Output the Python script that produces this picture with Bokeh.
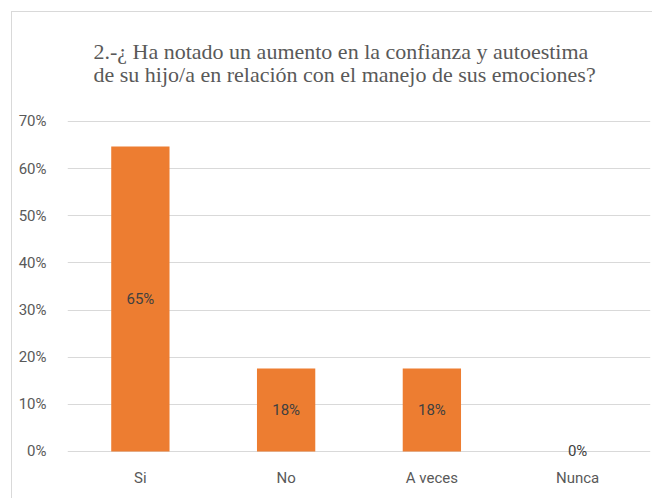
from bokeh.plotting import figure
from bokeh.models import (FactorRange, Range1d, NumeralTickFormatter, FixedTicker,
                          ColumnDataSource, Title)
from bokeh.core.properties import value
from bokeh.embed import file_html
from bokeh.resources import INLINE

categories = ["Si", "No", "A veces", "Nunca"]
percentages = [0.647, 0.176, 0.176, 0.0]
labels = ["65%", "18%", "18%", "0%"]
y_ticks = [0.0, 0.1, 0.2, 0.3, 0.4, 0.5, 0.6, 0.7]
title_lines = ["2.-¿ Ha notado un aumento en la confianza y autoestima",
               "de su hijo/a en relación con el manejo de sus emociones?"]

source = ColumnDataSource(dict(
    cat=categories,
    val=percentages,
    mid=[v / 2 for v in percentages],
    lab=labels,
))

p = figure(width=652, height=494, x_range=FactorRange(*categories),
           y_range=Range1d(-0.015, 0.702), output_backend="svg", toolbar_location=None,
           title=None, min_border_left=67, min_border_right=2,
           min_border_top=120, min_border_bottom=36)

p.vbar(x="cat", top="val", width=0.4, source=source, fill_color="#ED7D31", line_color=None)
p.text(x="cat", y="mid", text="lab", source=source, text_align="center",
       text_baseline="middle", text_color="#404040", text_font=value("Roboto"),
       text_font_size="15px")

p.outline_line_color = None
p.xgrid.grid_line_color = None
p.ygrid.grid_line_color = "#d9d9d9"
p.ygrid.grid_line_width = 1

p.yaxis.ticker = FixedTicker(ticks=y_ticks)
p.yaxis.formatter = NumeralTickFormatter(format="0%")
for ax in (p.xaxis, p.yaxis):
    ax.axis_line_color = None
    ax.major_tick_line_color = None
    ax.minor_tick_line_color = None
    ax.major_label_text_font = "Roboto"
    ax.major_label_text_font_size = "15px"
    ax.major_label_text_color = "#595959"
p.yaxis.major_label_standoff = 15
p.xaxis.major_label_standoff = 4

p.add_layout(Title(text="\n".join(title_lines), align="left", offset=26,
                   text_font="Liberation Serif", text_font_size="22px",
                   text_font_style="normal", text_color="#595959",
                   text_line_height=0.92, standoff=68), "above")

css = ("<style>html,body{margin:0;padding:0;overflow:hidden;}"
       "body::after{content:'';position:fixed;left:11px;top:11px;right:-20px;bottom:-20px;"
       "border-left:1px solid #d9d9d9;border-top:1px solid #d9d9d9;"
       "pointer-events:none;z-index:10;}</style>")
html = file_html(p, INLINE)
html = html.replace("</head>", css + "</head>", 1)
open("out.html", "w").write(html)
